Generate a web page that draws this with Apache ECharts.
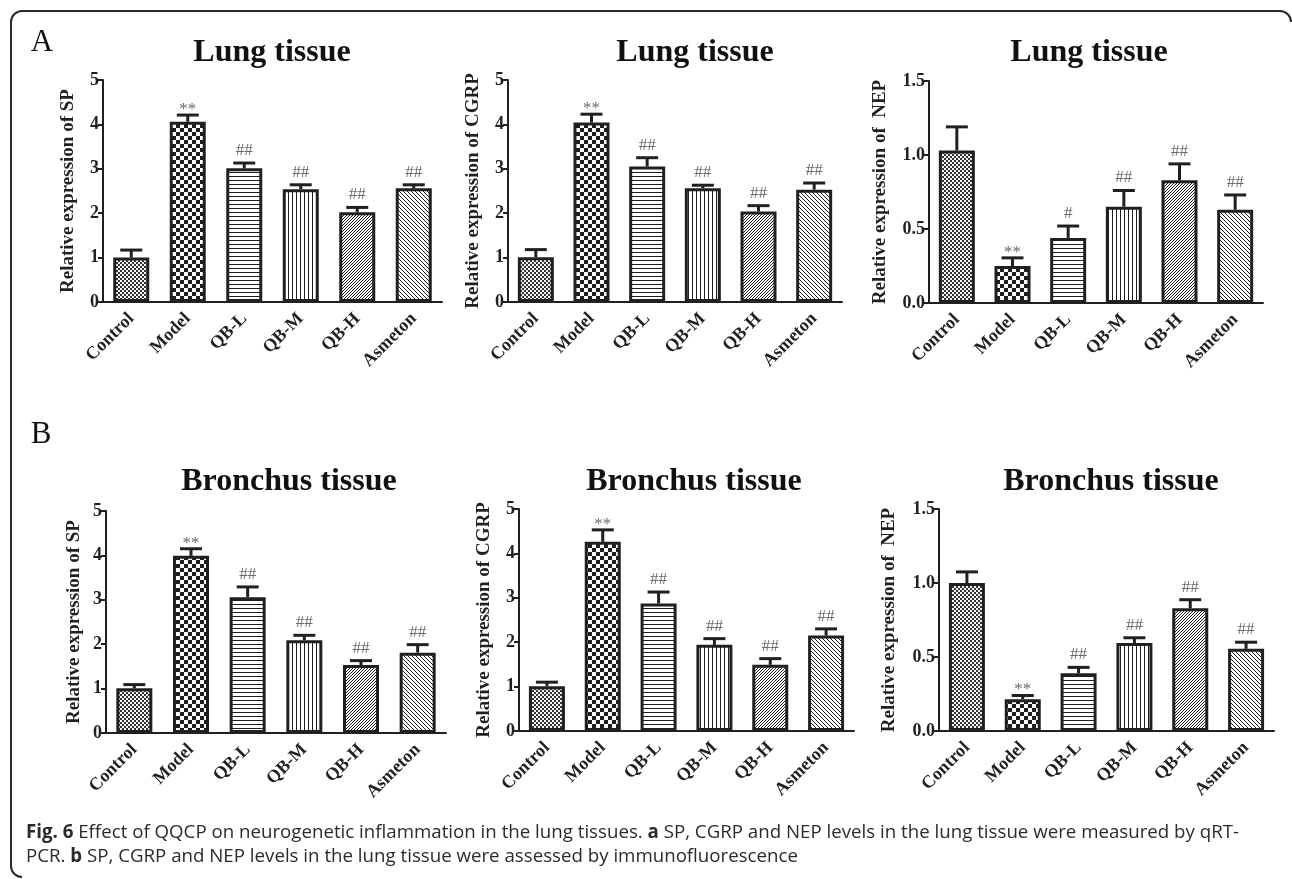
<!DOCTYPE html>
<html>
<head>
<meta charset="utf-8">
<title>Effect of QQCP on neurogenetic inflammation</title>
<script src="https://cdn.jsdelivr.net/npm/echarts@6/dist/echarts.min.js"></script>
<style>
  html, body { margin: 0; padding: 0; background: #ffffff; }
  #chart { width: 1292px; height: 879px; }
</style>
</head>
<body>
<div id="chart"></div>
<script>
// Treatment groups shared by every panel
const groups = ['Control', 'Model', 'QB-L', 'QB-M', 'QB-H', 'Asmeton'];

// A: lung tissue, qRT-PCR (mean and SEM)
const lungSP       = [1.00, 4.06, 3.01, 2.54, 2.02, 2.56];
const lungSPErr    = [0.17, 0.15, 0.12, 0.10, 0.11, 0.08];
const lungCGRP     = [1.01, 4.04, 3.05, 2.56, 2.04, 2.53];
const lungCGRPErr  = [0.17, 0.19, 0.20, 0.07, 0.13, 0.15];
const lungNEP      = [1.03, 0.25, 0.44, 0.65, 0.83, 0.63];
const lungNEPErr   = [0.16, 0.055, 0.08, 0.11, 0.11, 0.10];

// B: bronchus tissue, immunofluorescence (mean and SEM)
const bronSP       = [1.01, 3.99, 3.06, 2.09, 1.53, 1.81];
const bronSPErr    = [0.08, 0.16, 0.23, 0.11, 0.10, 0.18];
const bronCGRP     = [1.01, 4.26, 2.87, 1.94, 1.49, 2.15];
const bronCGRPErr  = [0.09, 0.27, 0.26, 0.14, 0.14, 0.15];
const bronNEP      = [1.00, 0.214, 0.39, 0.594, 0.83, 0.555];
const bronNEPErr   = [0.075, 0.026, 0.04, 0.036, 0.057, 0.045];

// Significance marks (** vs Control, #/## vs Model)
const marksStd     = ['', '**', '##', '##', '##', '##'];
const marksLungNEP = ['', '**', '#', '##', '##', '##'];

// Value-axis scales: [max, interval]
const scaleExpr = [5, 1];
const scaleNEP  = [1.5, 0.5];

const ink = '#231f20';
const serif = '"Liberation Serif", "Times New Roman", serif';

// Fill textures for the six groups, built as small repeating tiles
function makePattern(size, dark) {
  const c = document.createElement('canvas');
  c.width = c.height = size;
  const ctx = c.getContext('2d');
  const img = ctx.createImageData(size, size);
  for (let y = 0; y < size; y++) {
    for (let x = 0; x < size; x++) {
      const v = dark(x, y);
      const g = Math.round(255 - v * (255 - 30));
      const k = (y * size + x) * 4;
      img.data[k] = g; img.data[k + 1] = g; img.data[k + 2] = g; img.data[k + 3] = 255;
    }
  }
  ctx.putImageData(img, 0, 0);
  return { image: c, repeat: 'repeat' };
}
const fills = [
  makePattern(4, (x, y) => (((x >> 1) + (y >> 1)) % 2 ? 0.9 : 0.05)),      // fine checker
  makePattern(8, (x, y) => (((x >> 2) + (y >> 2)) % 2 ? 1 : 0)),           // coarse checker
  makePattern(4, (x, y) => (y % 4 === 0 ? 1 : 0)),                          // horizontal lines
  makePattern(4, (x, y) => (x % 4 === 0 ? 1 : 0)),                          // vertical lines
  makePattern(3, (x, y) => ((x + y) % 3 === 0 ? 1 : 0)),                    // "/" hatch
  makePattern(4, (x, y) => ((((x - y) % 4) + 4) % 4 === 0 ? 1 : 0))         // "\" hatch
];

// Panel layout
const panels = [
  { grid: { left: 103, top: 80, width: 339, height: 222 }, name: 'Relative expression of SP',   gap: 25, values: lungSP,   errs: lungSPErr,   marks: marksStd,     scale: scaleExpr, title: 'Lung tissue',     tx: 272,  ty: 53 },
  { grid: { left: 508, top: 80, width: 334, height: 222 }, name: 'Relative expression of CGRP', gap: 25, values: lungCGRP, errs: lungCGRPErr, marks: marksStd,     scale: scaleExpr, title: 'Lung tissue',     tx: 695,  ty: 53 },
  { grid: { left: 929, top: 81, width: 334, height: 222 }, name: 'Relative expression of  NEP', gap: 39, values: lungNEP,  errs: lungNEPErr,  marks: marksLungNEP, scale: scaleNEP,  title: 'Lung tissue',     tx: 1089, ty: 53 },
  { grid: { left: 106, top: 511, width: 340, height: 222 }, name: 'Relative expression of SP',  gap: 22, values: bronSP,   errs: bronSPErr,   marks: marksStd,     scale: scaleExpr, title: 'Bronchus tissue', tx: 289,  ty: 482 },
  { grid: { left: 519, top: 509, width: 335, height: 222 }, name: 'Relative expression of CGRP', gap: 25, values: bronCGRP, errs: bronCGRPErr, marks: marksStd,    scale: scaleExpr, title: 'Bronchus tissue', tx: 694,  ty: 482 },
  { grid: { left: 939, top: 509, width: 335, height: 222 }, name: 'Relative expression of  NEP', gap: 40, values: bronNEP,  errs: bronNEPErr,  marks: marksStd,     scale: scaleNEP,  title: 'Bronchus tissue', tx: 1111, ty: 482 }
];

const grids = [], xAxes = [], yAxes = [], series = [], texts = [];

panels.forEach((p, i) => {
  grids.push(Object.assign({ containLabel: false }, p.grid));

  xAxes.push({
    type: 'category', gridIndex: i, data: groups,
    axisLine: { lineStyle: { color: ink, width: 2 } },
    axisTick: { alignWithLabel: true, length: 6, lineStyle: { color: ink, width: 2 } },
    axisLabel: { rotate: 45, margin: 14, color: ink, fontFamily: serif, fontWeight: 'bold', fontSize: 18 },
    splitLine: { show: false }
  });

  const dec = p.scale[1] < 1 ? 1 : 0;
  yAxes.push({
    type: 'value', gridIndex: i, min: 0, max: p.scale[0], interval: p.scale[1],
    name: p.name, nameLocation: 'middle', nameGap: p.gap,
    nameTextStyle: { color: ink, fontFamily: serif, fontWeight: 'bold', fontSize: 19 },
    axisLine: { show: true, lineStyle: { color: ink, width: 2 } },
    axisTick: { show: true, length: 5, lineStyle: { color: ink, width: 2 } },
    axisLabel: { margin: 4, color: ink, fontFamily: serif, fontWeight: 'bold', fontSize: 18,
                 formatter: v => v.toFixed(dec) },
    splitLine: { show: false }
  });

  series.push({
    type: 'bar', xAxisIndex: i, yAxisIndex: i, barWidth: 36, z: 2,
    data: p.values.map((v, k) => ({ value: v, itemStyle: { color: fills[k] } })),
    itemStyle: { borderColor: ink, borderWidth: 3 },
    emphasis: { disabled: true },
    animation: false
  });

  // Error bars (upper whisker only) with significance marks
  const errs = p.errs, marks = p.marks;
  series.push({
    type: 'custom', xAxisIndex: i, yAxisIndex: i, z: 3,
    data: p.values.map((v, k) => [k, v, v + errs[k]]),
    encode: { x: 0, y: [1, 2] },
    animation: false,
    renderItem: function (params, api) {
      const k = api.value(0);
      const base = api.coord([k, api.value(1)]);
      const top = api.coord([k, api.value(2)]);
      const half = 11;
      const children = [
        { type: 'line', shape: { x1: base[0], y1: base[1], x2: top[0], y2: top[1] },
          style: { stroke: ink, lineWidth: 3 } },
        { type: 'line', shape: { x1: top[0] - half, y1: top[1], x2: top[0] + half, y2: top[1] },
          style: { stroke: ink, lineWidth: 3 } }
      ];
      const m = marks[params.dataIndex];
      if (m) {
        // asterisks sit high in the em box, so they are set lower than hashes
        const lift = m.charAt(0) === '*' ? -3 : 4;
        children.push({
          type: 'text', x: top[0], y: top[1] - lift,
          style: { text: m, font: '17px ' + serif, fill: '#6b6b6b',
                   align: 'center', verticalAlign: 'bottom', textAlign: 'center', textVerticalAlign: 'bottom' }
        });
      }
      return { type: 'group', children: children };
    }
  });

  texts.push({
    type: 'text', x: p.tx, y: p.ty,
    style: { text: p.title, font: 'bold 32px ' + serif, fill: '#111',
             align: 'center', verticalAlign: 'middle', textAlign: 'center', textVerticalAlign: 'middle' }
  });
});

// Panel letters
texts.push({ type: 'text', x: 42, y: 43, style: { text: 'A', font: '31px ' + serif, fill: '#111',
  align: 'center', verticalAlign: 'middle', textAlign: 'center', textVerticalAlign: 'middle' } });
texts.push({ type: 'text', x: 41, y: 435, style: { text: 'B', font: '31px ' + serif, fill: '#111',
  align: 'center', verticalAlign: 'middle', textAlign: 'center', textVerticalAlign: 'middle' } });

// Figure caption
const capFont = '18.7px "Open Sans", "Noto Sans", sans-serif';
texts.push({ type: 'text', x: 26, y: 833, style: {
  text: '{b|Fig. 6} Effect of QQCP on neurogenetic inflammation in the lung tissues. {b|a} SP, CGRP and NEP levels in the lung tissue were measured by qRT-',
  font: capFont, fill: '#2b2b2b', align: 'left', verticalAlign: 'middle', textAlign: 'left', textVerticalAlign: 'middle',
  rich: { b: { font: 'bold ' + capFont, fill: '#2b2b2b', textFill: '#2b2b2b' } } } });
texts.push({ type: 'text', x: 26, y: 857, style: {
  text: 'PCR. {b|b} SP, CGRP and NEP levels in the lung tissue were assessed by immunofluorescence',
  font: capFont, fill: '#2b2b2b', align: 'left', verticalAlign: 'middle', textAlign: 'left', textVerticalAlign: 'middle',
  rich: { b: { font: 'bold ' + capFont, fill: '#2b2b2b', textFill: '#2b2b2b' } } } });

// Rounded frame (top and left edges with corners)
const frameStyle = { stroke: '#2a2a2a', lineWidth: 2, fill: null };
texts.push({ type: 'line', silent: true, shape: { x1: 22, y1: 11, x2: 1280, y2: 11 }, style: frameStyle });
texts.push({ type: 'line', silent: true, shape: { x1: 11, y1: 22, x2: 11, y2: 866 }, style: frameStyle });
texts.push({ type: 'arc', silent: true, shape: { cx: 22, cy: 22, r: 11, startAngle: Math.PI, endAngle: Math.PI * 1.5, clockwise: true }, style: frameStyle });
texts.push({ type: 'arc', silent: true, shape: { cx: 1280, cy: 22, r: 11, startAngle: Math.PI * 1.5, endAngle: Math.PI * 2, clockwise: true }, style: frameStyle });
texts.push({ type: 'arc', silent: true, shape: { cx: 22, cy: 866, r: 11, startAngle: Math.PI * 0.5, endAngle: Math.PI, clockwise: true }, style: frameStyle });

const chart = echarts.init(document.getElementById('chart'), null, { renderer: 'canvas' });
chart.setOption({
  backgroundColor: '#ffffff',
  animation: false,
  grid: grids,
  xAxis: xAxes,
  yAxis: yAxes,
  series: series,
  graphic: { elements: texts }
});
</script>
</body>
</html>
